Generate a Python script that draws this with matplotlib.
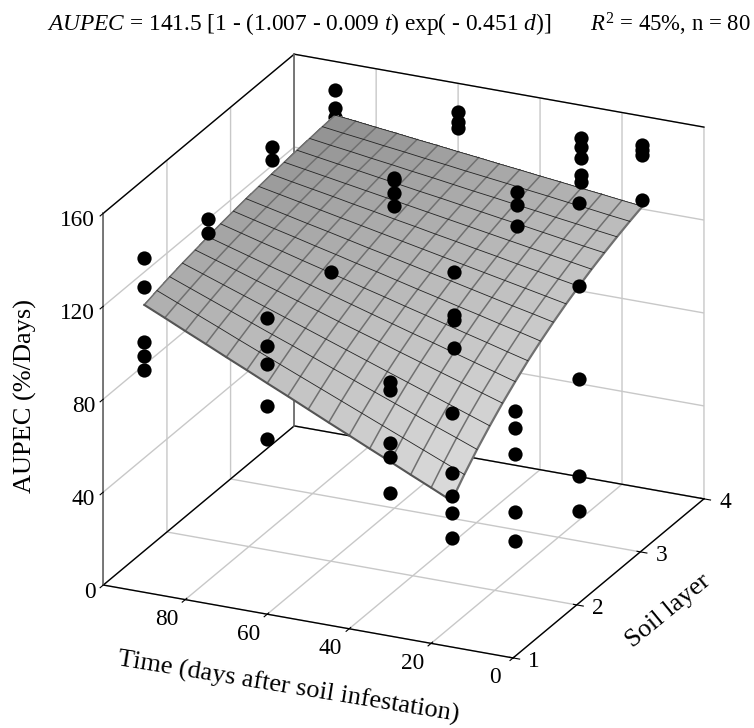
import numpy as np
import matplotlib
matplotlib.use("Agg")
import matplotlib.pyplot as plt
from mpl_toolkits.mplot3d import proj3d

plt.rcParams['font.family'] = ['Liberation Serif', 'DejaVu Serif']
plt.rcParams['mathtext.fontset'] = 'custom'
plt.rcParams['mathtext.rm'] = 'Liberation Serif'
plt.rcParams['mathtext.it'] = 'Liberation Serif:italic'
plt.rcParams['grid.color'] = '#c8c8c8'
plt.rcParams['grid.linewidth'] = 1.0

# surface, one row per soil layer step, one column per time step
surf_t = [15, 20, 25, 30, 35, 40, 45, 50, 55, 60, 65, 70, 75, 80, 85, 90]
surf_d = [1.0, 1.2, 1.4, 1.6, 1.8, 2.0, 2.2, 2.4, 2.6, 2.8, 3.0, 3.2, 3.4, 3.6, 3.8, 4.0]
surf_z = [
    [62.9, 67.0, 71.0, 75.1, 79.1, 83.2, 87.2, 91.3, 95.4, 99.4, 103.5, 107.5, 111.6, 115.6, 119.7, 123.7],
    [69.7, 73.4, 77.1, 80.8, 84.5, 88.2, 91.9, 95.6, 99.3, 103.0, 106.7, 110.4, 114.2, 117.9, 121.6, 125.3],
    [75.9, 79.3, 82.6, 86.0, 89.4, 92.8, 96.2, 99.6, 103.0, 106.4, 109.7, 113.1, 116.5, 119.9, 123.3, 126.7],
    [81.5, 84.6, 87.7, 90.8, 93.9, 97.0, 100.1, 103.2, 106.3, 109.4, 112.5, 115.6, 118.7, 121.8, 124.9, 128.0],
    [86.7, 89.5, 92.4, 95.2, 98.0, 100.8, 103.7, 106.5, 109.3, 112.2, 115.0, 117.8, 120.6, 123.5, 126.3, 129.1],
    [91.4, 94.0, 96.6, 99.2, 101.8, 104.3, 106.9, 109.5, 112.1, 114.7, 117.3, 119.9, 122.4, 125.0, 127.6, 130.2],
    [95.8, 98.1, 100.5, 102.8, 105.2, 107.6, 109.9, 112.3, 114.6, 117.0, 119.4, 121.7, 124.1, 126.4, 128.8, 131.2],
    [99.7, 101.9, 104.0, 106.2, 108.3, 110.5, 112.6, 114.8, 117.0, 119.1, 121.3, 123.4, 125.6, 127.7, 129.9, 132.1],
    [103.3, 105.3, 107.2, 109.2, 111.2, 113.2, 115.1, 117.1, 119.1, 121.0, 123.0, 125.0, 126.9, 128.9, 130.9, 132.9],
    [106.6, 108.4, 110.2, 112.0, 113.8, 115.6, 117.4, 119.2, 121.0, 122.8, 124.6, 126.4, 128.2, 130.0, 131.8, 133.6],
    [109.6, 111.2, 112.9, 114.5, 116.2, 117.8, 119.5, 121.1, 122.8, 124.4, 126.1, 127.7, 129.4, 131.0, 132.6, 134.3],
    [112.4, 113.9, 115.4, 116.9, 118.4, 119.9, 121.4, 122.9, 124.4, 125.9, 127.4, 128.9, 130.4, 131.9, 133.4, 134.9],
    [114.9, 116.2, 117.6, 119.0, 120.4, 121.7, 123.1, 124.5, 125.9, 127.2, 128.6, 130.0, 131.4, 132.7, 134.1, 135.5],
    [117.2, 118.4, 119.7, 120.9, 122.2, 123.4, 124.7, 125.9, 127.2, 128.5, 129.7, 131.0, 132.2, 133.5, 134.7, 136.0],
    [119.3, 120.4, 121.6, 122.7, 123.9, 125.0, 126.2, 127.3, 128.4, 129.6, 130.7, 131.9, 133.0, 134.2, 135.3, 136.5],
    [121.2, 122.2, 123.3, 124.3, 125.4, 126.4, 127.5, 128.5, 129.6, 130.6, 131.7, 132.7, 133.8, 134.8, 135.9, 136.9],
]

# observations that can be seen in the picture
dots_t = [90] * 13 + [60] * 13 + [30] * 17 + [15] * 19
dots_d = ([1] * 5 + [2] * 3 + [3] * 2 + [4] * 3
          + [1] * 5 + [2] * 1 + [3] * 4 + [4] * 3
          + [1] * 5 + [2] * 4 + [3] * 3 + [4] * 5
          + [1] * 5 + [2] * 5 + [3] * 5 + [4] * 4)
dots_z = [143.9, 131.4, 107.8, 101.6, 95.9, 137.8, 131.9, 123.7, 146.1, 140.6, 147.7, 139.8, 136.2,
          127.5, 115.4, 107.5, 89.7, 75.4, 124.3, 142.3, 141.2, 135.7, 130.1, 147.7, 143.4, 140.6,
          109.4, 105.9, 82.9, 77.2, 61.4, 133.7, 115.3, 113.2, 101.0, 145.3, 139.7, 130.8,
          145.7, 142.1, 137.1, 129.9, 127.0,
          100.5, 75.1, 64.9, 57.5, 47.0, 78.7, 71.5, 60.2, 35.1, 22.6,
          145.5, 109.7, 69.7, 28.0, 12.9, 147.5, 145.4, 143.2, 124.0]

time_ticks = [0, 20, 40, 60, 80]
layer_ticks = [1, 2, 3, 4]
aupec_ticks = [0, 40, 80, 120, 160]

title_left = r"$\mathit{AUPEC}$ = 141.5 [1 - (1.007 - 0.009 $\mathit{t}$) exp( - 0.451 $\mathit{d}$)]"
title_right = r"$\mathit{R}^{2}$ = 45%, n = 80"


def tick_text(ax, xyz, text, offset, ha='center'):
    # tick label at a data position, moved by a fixed number of pixels
    x2, y2, _ = proj3d.proj_transform(xyz[0], xyz[1], xyz[2], ax.get_proj())
    ax.annotate(str(text), (x2, y2), xytext=offset, textcoords='offset pixels',
                fontsize=16.8, ha=ha, va='center', annotation_clip=False, zorder=6)


def axis_title(fig, px, py, text, angle):
    fig.text(px / 754, 1 - py / 728, text, fontsize=19, rotation=angle,
             rotation_mode='anchor', ha='center', va='center')


def main():
    fig = plt.figure(figsize=(7.54, 7.28), dpi=100)
    ax = fig.add_axes([16.8 / 754, -1.9 / 728, 1.0, 1.0], projection='3d', computed_zorder=False)
    ax.set_proj_type('ortho')
    ax.view_init(elev=22.65, azim=-65.2)
    ax.set_box_aspect((451.6, 455.3, 403.0), zoom=1.0095)

    ax.set_xlim(100, 0)
    ax.set_ylim(1, 4)
    ax.set_zlim(0, 160)
    ax.set_xticks(time_ticks)
    ax.set_yticks(layer_ticks)
    ax.set_zticks(aupec_ticks)
    ax.set_xticklabels([])
    ax.set_yticklabels([])
    ax.set_zticklabels([])
    ax.zaxis.set_ticks_position('none')

    for axis in (ax.xaxis, ax.yaxis, ax.zaxis):
        axis.set_pane_color((1, 1, 1, 1))
        axis.pane.set_edgecolor('none')
        axis.line.set_color('black')
        axis.line.set_linewidth(1.0)
    ax.zaxis.line.set_color('#666666')
    ax.zaxis.line.set_linewidth(1.2)

    # frame of the box
    for xs, ys, zs, col in [((100, 100), (1, 4), (0, 0), 'black'),
                            ((100, 0), (4, 4), (0, 0), 'black'),
                            ((100, 100), (1, 4), (160, 160), 'black'),
                            ((100, 0), (4, 4), (160, 160), 'black'),
                            ((100, 100), (4, 4), (0, 160), '#666666'),
                            ((100, 100), (1, 1), (0, 160), '#666666')]:
        ax.plot(xs, ys, zs, color=col, lw=1.2 if col != 'black' else 1.0, zorder=1)
    for z in aupec_ticks:
        ax.plot((100, 100), (1, 0.95), (z, z), color='black', lw=0.8, zorder=1)

    tt, dd = np.meshgrid(surf_t, surf_d)
    zz = np.array(surf_z)

    # dots under the surface go first so the surface hides them
    t_arr = np.array(dots_t)
    d_arr = np.array(dots_d)
    z_arr = np.array(dots_z)
    on_surf = np.array([zz[surf_d.index(float(d)), surf_t.index(t)] for t, d in zip(dots_t, dots_d)])
    over = z_arr > on_surf
    ax.scatter(t_arr[~over], d_arr[~over], z_arr[~over], s=105, c='black', lw=0,
               depthshade=False, zorder=2)

    tn = (tt - 15) / 75.0
    dn = (dd - 1) / 3.0
    gray = 0.85 - 0.17 * tn - 0.13 * dn
    faces = np.dstack([gray, gray, gray, np.ones_like(gray)])
    ax.plot_surface(tt, dd, zz, facecolors=faces, rstride=1, cstride=1, shade=False,
                    linewidth=0, antialiased=False, zorder=3)

    for j in range(len(surf_t)):
        ax.plot(tt[:, j], dd[:, j], zz[:, j], color='#707070', lw=1.1 if j else 1.6, zorder=4)
    for i in range(len(surf_d)):
        ax.plot(tt[i], dd[i], zz[i], color='#555555' if i == 0 else '#222222',
                lw=1.5 if i == 0 else 0.6, zorder=4)

    ax.scatter(t_arr[over], d_arr[over], z_arr[over], s=105, c='black', lw=0,
               depthshade=False, zorder=5)

    for t in time_ticks:
        tick_text(ax, (t, 1, 0), t, (-18.5, -20))
    for d in layer_ticks:
        tick_text(ax, (0, d, 0), d, (21, -4))
    for z in aupec_ticks:
        tick_text(ax, (100, 1, z), z, (-8, -7), ha='right')

    axis_title(fig, 288, 687, "Time (days after soil infestation)", -9.3)
    axis_title(fig, 668, 611, "Soil layer", 39.5)
    axis_title(fig, 25, 396, "AUPEC (%/Days)", 90)

    fig.text(47 / 754, 1 - 24 / 728, title_left, fontsize=16.8, ha='left', va='center')
    fig.text(590 / 754, 1 - 24 / 728, title_right, fontsize=16.4, ha='left', va='center')

    fig.savefig("out.png", dpi=100)


if __name__ == "__main__":
    main()
